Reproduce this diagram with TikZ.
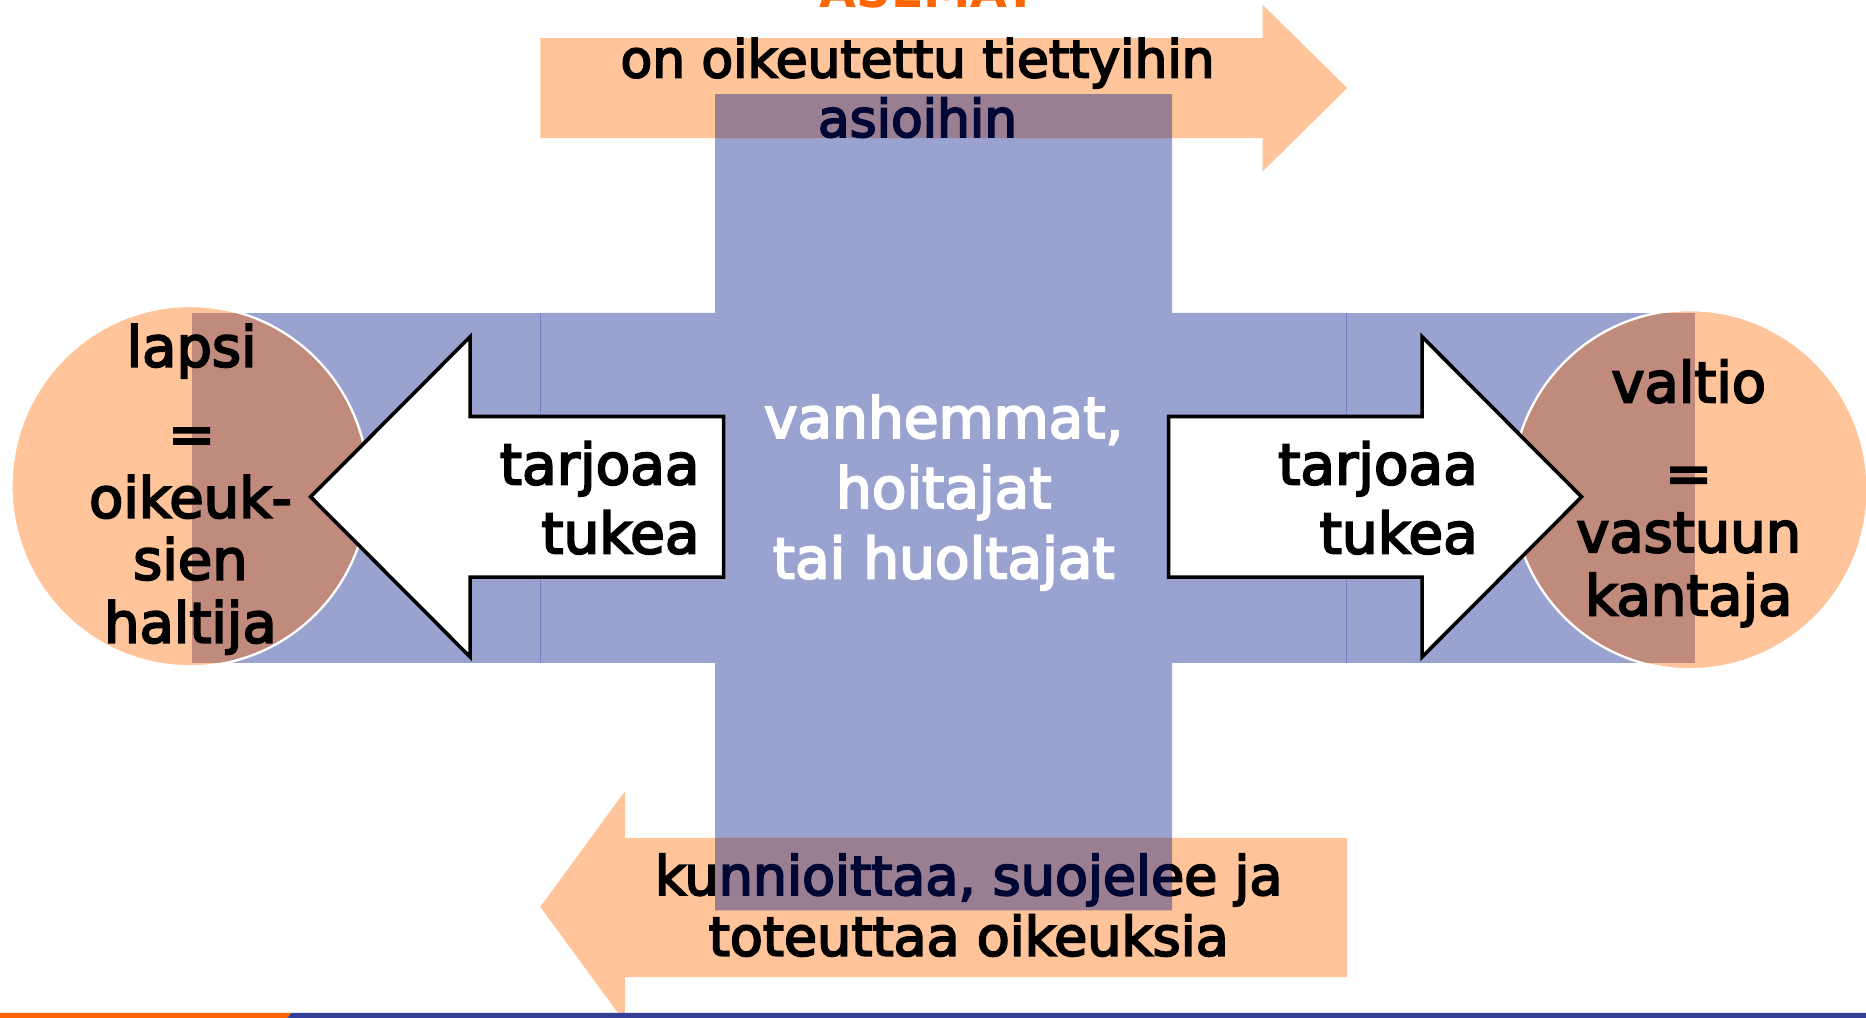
\documentclass[tikz,border=0pt]{standalone}
\usepackage{fontspec}
\setmainfont{DejaVu Sans}
\newfontfamily\tahomalike[FakeBold=3.6]{DejaVu Sans}
\newfontfamily\asematfont{DejaVu Sans Bold}
\definecolor{peach}{RGB}{255,196,154}
\definecolor{crossnavy}{RGB}{0,20,136}
\definecolor{bandblue}{RGB}{154,162,208}
\definecolor{circbrown}{RGB}{192,138,125}
\definecolor{hair}{RGB}{118,126,196}
\definecolor{asorange}{RGB}{255,102,0}
\definecolor{stripeblue}{RGB}{51,64,153}
\tikzset{
  txt/.style={inner sep=0pt, anchor=base},
  txtr/.style={txt, anchor=base east},
  toptxt/.style={txt, font=\tahomalike\fontsize{43.5}{50}\selectfont},
  bottxt/.style={txt, font=\tahomalike\fontsize{45.3}{50}\selectfont},
  circtxt/.style={txt, font=\tahomalike\fontsize{47}{50}\selectfont},
  midtxt/.style={txt, text=white, font=\tahomalike\fontsize{47.5}{50}\selectfont},
  arrtxt/.style={txtr, font=\tahomalike\fontsize{47.5}{50}\selectfont},
  peacharrow/.style={fill=peach, draw=none},
  blockarrow/.style={fill=white, draw=black, line width=3pt, line join=miter},
  circlebody/.style={fill=peach, draw=white, line width=2.2pt},
}
\begin{document}
\begin{tikzpicture}[x=1pt,y=-1pt]
\useasboundingbox (0,0) rectangle (1568,855);
\clip (0,0) rectangle (1568,855);
% top and bottom peach arrows
\fill[peacharrow] (454,32) -- (1061,32) -- (1061,4) -- (1132,74) -- (1061,144) -- (1061,116) -- (454,116) -- cycle;
\fill[peacharrow] (1132,704) -- (525,704) -- (525,665) -- (454,762) -- (525,859) -- (525,821) -- (1132,821) -- cycle;
% texts on arrows
\node[txt, font=\asematfont\fontsize{40}{50}\selectfont, text=asorange] (asemat) at (780,6) {ASEMAT};
\node[toptxt] (oikeutettu) at (771,65) {on oikeutettu tiettyihin};
\node[toptxt] (asioihin) at (771,115) {asioihin};
\node[bottxt] (kunnioittaa) at (814,752) {kunnioittaa, suojelee ja};
\node[bottxt] (toteuttaa) at (814,803) {toteuttaa oikeuksia};
% central cross (semi-transparent)
\fill[crossnavy, fill opacity=0.396] (601,79) rectangle (985,765) (454,263) rectangle (1131,557);
% side bands
\fill[bandblue] (161,263) rectangle (454,557);
\fill[bandblue] (1131,263) rectangle (1424,557);
\draw[hair, line width=0.7pt] (454,263) -- (454,557);
\draw[hair, line width=0.7pt] (1131,263) -- (1131,557);
% circles
\draw[circlebody] (159.5,408.5) ellipse [x radius=150, y radius=151.5];
\draw[circlebody] (1420,411.5) ellipse [x radius=149.5, y radius=151];
\begin{scope}
  \clip (159.5,408.5) ellipse [x radius=149, y radius=150.5];
  \fill[circbrown] (161,263) rectangle (454,557);
\end{scope}
\begin{scope}
  \clip (1420,411.5) ellipse [x radius=148.5, y radius=150];
  \fill[circbrown] (1131,263) rectangle (1424,557);
\end{scope}
% circle texts
\node[circtxt] (lapsi) at (161,308) {lapsi};
\node[circtxt] (eqa) at (161,381) {=};
\node[circtxt] (oikeuk) at (160,435) {oikeuk-};
\node[circtxt] (sien) at (160,487) {sien};
\node[circtxt] (haltija) at (160,540) {haltija};
\node[circtxt] (valtio) at (1419,338) {valtio};
\node[circtxt] (eqb) at (1419,414) {=};
\node[circtxt] (vastuun) at (1419,464) {vastuun};
\node[circtxt] (kantaja) at (1419,517) {kantaja};
% block arrows
\draw[blockarrow] (608,350) -- (395,350) -- (395,283) -- (261,417.5) -- (395,552) -- (395,485) -- (608,485) -- cycle;
\draw[blockarrow] (982,350) -- (1195,350) -- (1195,283) -- (1329,417.5) -- (1195,552) -- (1195,485) -- (982,485) -- cycle;
\node[arrtxt] (tarjoaaL) at (588,407) {tarjoaa};
\node[arrtxt] (tukeaL) at (588,465) {tukea};
\node[arrtxt] (tarjoaaR) at (1242,407) {tarjoaa};
\node[arrtxt] (tukeaR) at (1242,465) {tukea};
% centre text
\node[midtxt] (vanhemmat) at (793,368) {vanhemmat,};
\node[midtxt] (hoitajat) at (793,427) {hoitajat};
\node[midtxt] (huoltajat) at (793,486) {tai huoltajat};
% bottom stripe
\fill[asorange] (0,851) -- (245,851) -- (241,856) -- (0,856) -- cycle;
\fill[stripeblue] (245,851) -- (1568,851) -- (1568,856) -- (241,856) -- cycle;
\end{tikzpicture}
\end{document}
